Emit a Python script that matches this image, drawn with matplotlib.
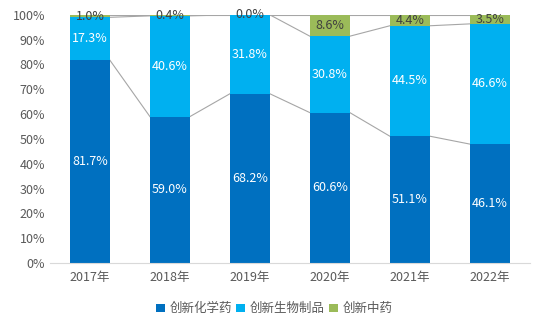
import matplotlib
matplotlib.use("Agg")
import matplotlib.pyplot as plt
import numpy as np

plt.rcParams['font.family'] = ['Noto Sans CJK SC', 'DejaVu Sans']

years = ["2017年", "2018年", "2019年", "2020年", "2021年", "2022年"]
chem = [81.7, 59.0, 68.2, 60.6, 51.1, 46.1]
bio = [17.3, 40.6, 31.8, 30.8, 44.5, 46.6]
tcm = [1.0, 0.4, 0.0, 8.6, 4.4, 3.5]
series_names = ["创新化学药", "创新生物制品", "创新中药"]
colors = ["#0070C0", "#00B0F0", "#9BBB59"]
label_colors = ["white", "white", "#404040"]

fig = plt.figure(figsize=(5.49, 3.3), dpi=100)
ax = fig.add_axes([0.091, 0.203, 0.874, 0.752])

data = np.array([chem, bio, tcm])
totals = data.sum(axis=0)
shares = data / totals
x = np.arange(len(years))
w = 0.5
bottom = np.zeros(len(years))
tops = []
for i, (vals, sh) in enumerate(zip(data, shares)):
    ax.bar(x, sh, w, bottom=bottom, color=colors[i], label=series_names[i], zorder=2)
    for j in range(len(years)):
        ax.text(x[j], bottom[j] + sh[j] / 2, f"{vals[j]:.1f}%", ha="center", va="center",
                color=label_colors[i], fontsize=9, zorder=3)
    bottom = bottom + sh
    tops.append(bottom.copy())

for t in tops:
    for j in range(len(years) - 1):
        ax.plot([x[j] + w / 2, x[j + 1] - w / 2], [t[j], t[j + 1]], color="#A6A6A6", lw=0.8, zorder=1)

ax.set_xlim(-0.5, len(years) - 0.5)
ax.set_ylim(0, 1)
ax.set_yticks(np.arange(0, 1.01, 0.1))
ax.set_yticklabels([f"{int(round(v*100))}%" for v in np.arange(0, 1.01, 0.1)])
ax.set_xticks(x)
ax.set_xticklabels(years)
ax.tick_params(length=0, colors="#595959", labelsize=9)
ax.tick_params(axis="x", pad=6)
for s in ["top", "right", "left"]:
    ax.spines[s].set_visible(False)
ax.spines["bottom"].set_color("#D9D9D9")

fig.legend(loc="lower center", bbox_to_anchor=(0.5, 0.01), ncol=3, frameon=False,
           fontsize=9, handlelength=0.7, handleheight=0.7, handletextpad=0.4,
           columnspacing=0.3, labelcolor="#595959")

fig.savefig("out.png", dpi=100)
